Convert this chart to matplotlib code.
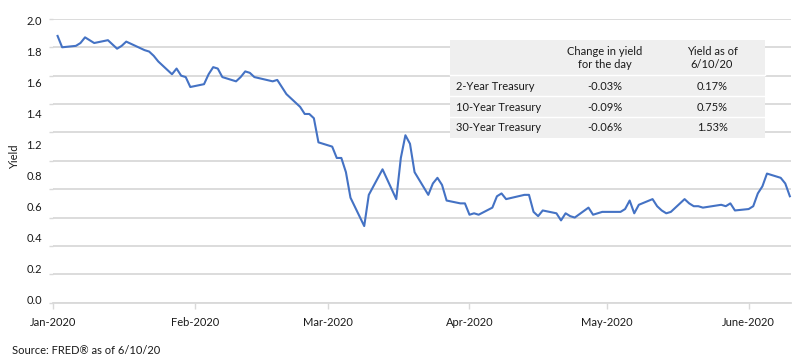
import numpy as np
import pandas as pd
import matplotlib
matplotlib.use('Agg')
import matplotlib.pyplot as plt
from matplotlib.patches import Rectangle

plt.rcParams['font.family'] = ['Lato', 'DejaVu Sans']

# 10-year treasury yield, daily, Jan 2 - Jun 10 2020
dates = ['2020-01-02', '2020-01-03', '2020-01-06', '2020-01-07', '2020-01-08', '2020-01-09',
         '2020-01-10', '2020-01-13', '2020-01-14', '2020-01-15', '2020-01-16', '2020-01-17',
         '2020-01-21', '2020-01-22', '2020-01-23', '2020-01-24', '2020-01-27', '2020-01-28',
         '2020-01-29', '2020-01-30', '2020-01-31', '2020-02-03', '2020-02-04', '2020-02-05',
         '2020-02-06', '2020-02-07', '2020-02-10', '2020-02-11', '2020-02-12', '2020-02-13',
         '2020-02-14', '2020-02-18', '2020-02-19', '2020-02-20', '2020-02-21', '2020-02-24',
         '2020-02-25', '2020-02-26', '2020-02-27', '2020-02-28', '2020-03-02', '2020-03-03',
         '2020-03-04', '2020-03-05', '2020-03-06', '2020-03-09', '2020-03-10', '2020-03-11',
         '2020-03-12', '2020-03-13', '2020-03-16', '2020-03-17', '2020-03-18', '2020-03-19',
         '2020-03-20', '2020-03-23', '2020-03-24', '2020-03-25', '2020-03-26', '2020-03-27',
         '2020-03-30', '2020-03-31', '2020-04-01', '2020-04-02', '2020-04-03', '2020-04-06',
         '2020-04-07', '2020-04-08', '2020-04-09', '2020-04-13', '2020-04-14', '2020-04-15',
         '2020-04-16', '2020-04-17', '2020-04-20', '2020-04-21', '2020-04-22', '2020-04-23',
         '2020-04-24', '2020-04-27', '2020-04-28', '2020-04-29', '2020-04-30', '2020-05-01',
         '2020-05-04', '2020-05-05', '2020-05-06', '2020-05-07', '2020-05-08', '2020-05-11',
         '2020-05-12', '2020-05-13', '2020-05-14', '2020-05-15', '2020-05-18', '2020-05-19',
         '2020-05-20', '2020-05-21', '2020-05-22', '2020-05-26', '2020-05-27', '2020-05-28',
         '2020-05-29', '2020-06-01', '2020-06-02', '2020-06-03', '2020-06-04', '2020-06-05',
         '2020-06-08', '2020-06-09', '2020-06-10']
yields = [1.88, 1.80, 1.81, 1.83, 1.87, 1.85,
          1.83, 1.85, 1.82, 1.79, 1.81, 1.84,
          1.78, 1.77, 1.74, 1.70, 1.61, 1.65,
          1.60, 1.59, 1.52, 1.54, 1.61, 1.66,
          1.65, 1.59, 1.56, 1.59, 1.63, 1.62,
          1.59, 1.56, 1.57, 1.52, 1.47, 1.38,
          1.33, 1.33, 1.30, 1.13, 1.10, 1.02,
          1.02, 0.92, 0.74, 0.54, 0.76, 0.82,
          0.88, 0.94, 0.73, 1.02, 1.18, 1.12,
          0.92, 0.76, 0.84, 0.88, 0.83, 0.72,
          0.70, 0.70, 0.62, 0.63, 0.62, 0.67,
          0.75, 0.77, 0.73, 0.76, 0.76, 0.64,
          0.61, 0.65, 0.63, 0.58, 0.63, 0.61,
          0.60, 0.67, 0.62, 0.63, 0.64, 0.64,
          0.64, 0.66, 0.72, 0.63, 0.69, 0.73,
          0.68, 0.65, 0.63, 0.64, 0.73, 0.70,
          0.68, 0.68, 0.67, 0.69, 0.68, 0.70,
          0.65, 0.66, 0.68, 0.77, 0.82, 0.91,
          0.88, 0.84, 0.75]

month_ticks = ['2020-01-01', '2020-02-01', '2020-03-01', '2020-04-01', '2020-05-01', '2020-06-01']
month_labels = ['Jan-2020', 'Feb-2020', 'Mar-2020', 'Apr-2020', 'May-2020', 'June-2020']
ytick_labels = ['2.0', '1.8', '1.6', '1.4', '1.2', '0.8', '0.6', '0.4', '0.2', '0.0']

table_cols = ['Change in yield\nfor the day', 'Yield as of\n6/10/20']
table_rows = ['2-Year Treasury', '10-Year Treasury', '30-Year Treasury']
table_change = ['-0.03%', '-0.09%', '-0.06%']
table_yield = ['0.17%', '0.75%', '1.53%']

W, H = 800, 361
fs = 8
txt_c = '#1a1a1a'
fig = plt.figure(figsize=(8, 3.61), dpi=100)
ax = fig.add_axes([53 / W, 1 - 302.7 / H, 738 / W, (302.7 - 18.9) / H])

x = pd.to_datetime(dates)
ax.plot(x, yields, color='#4472C4', lw=1.5, zorder=3, clip_on=False)

ax.set_xlim(pd.Timestamp('2020-01-01'), pd.Timestamp('2020-06-10 06:00'))
ax.set_ylim(0, 2.0)

grid_c = '#d9d9d9'
ax.set_yticks(np.arange(0, 2.01, 0.2))
ax.set_yticklabels([])
ax.yaxis.grid(True, color=grid_c, lw=1.3)
ax.tick_params(axis='y', which='major', length=3, color=grid_c, width=1)
# labels sit on their own evenly spaced positions
ax.set_yticks(np.linspace(1.99, 0.02, 10), minor=True)
ax.set_yticklabels(ytick_labels, minor=True)
ax.tick_params(axis='y', which='minor', length=0, pad=8, labelsize=fs, labelcolor=txt_c)

ax.set_xticks(pd.to_datetime(month_ticks))
ax.set_xticklabels(month_labels)
ax.tick_params(axis='x', length=4, color=grid_c, width=1, pad=6, labelsize=fs, labelcolor=txt_c)
ax.xaxis.set_minor_locator(matplotlib.ticker.NullLocator())

for s in ['top', 'right', 'left']:
    ax.spines[s].set_visible(False)
ax.spines['bottom'].set_color(grid_c)
ax.spines['bottom'].set_linewidth(1.3)

fig.text(15 / W, 1 - 157 / H, 'Yield', rotation=90, ha='center', va='center', fontsize=fs, color=txt_c)
fig.text(12 / W, 1 - 350 / H, 'Source: FRED\u00ae as of 6/10/20', ha='left', va='center', fontsize=fs, color=txt_c)

# summary table
tx0, tx1, ty0, ty1 = 450, 765, 40, 138
fig.patches.append(Rectangle((tx0 / W, 1 - ty1 / H), (tx1 - tx0) / W, (ty1 - ty0) / H,
                             transform=fig.transFigure, facecolor='#efefef', edgecolor='none', zorder=5))
for sy in [75, 96, 117.3]:
    fig.add_artist(plt.Line2D([tx0 / W, tx1 / W], [1 - sy / H] * 2, color='white', lw=1, zorder=6))

col2_x, col3_x = 605, 712
fig.text(col2_x / W, 1 - 58 / H, table_cols[0], ha='center', va='center', fontsize=fs,
         color=txt_c, linespacing=1.15, zorder=7)
fig.text(col3_x / W, 1 - 58 / H, table_cols[1], ha='center', va='center', fontsize=fs,
         color=txt_c, linespacing=1.15, zorder=7)
row_y = [86, 107, 128]
for i in range(3):
    fig.text(456 / W, 1 - row_y[i] / H, table_rows[i], ha='left', va='center', fontsize=fs, color=txt_c, zorder=7)
    fig.text(col2_x / W, 1 - row_y[i] / H, table_change[i], ha='center', va='center', fontsize=fs, color=txt_c, zorder=7)
    fig.text(col3_x / W, 1 - row_y[i] / H, table_yield[i], ha='center', va='center', fontsize=fs, color=txt_c, zorder=7)

fig.savefig('out.png', dpi=100)
